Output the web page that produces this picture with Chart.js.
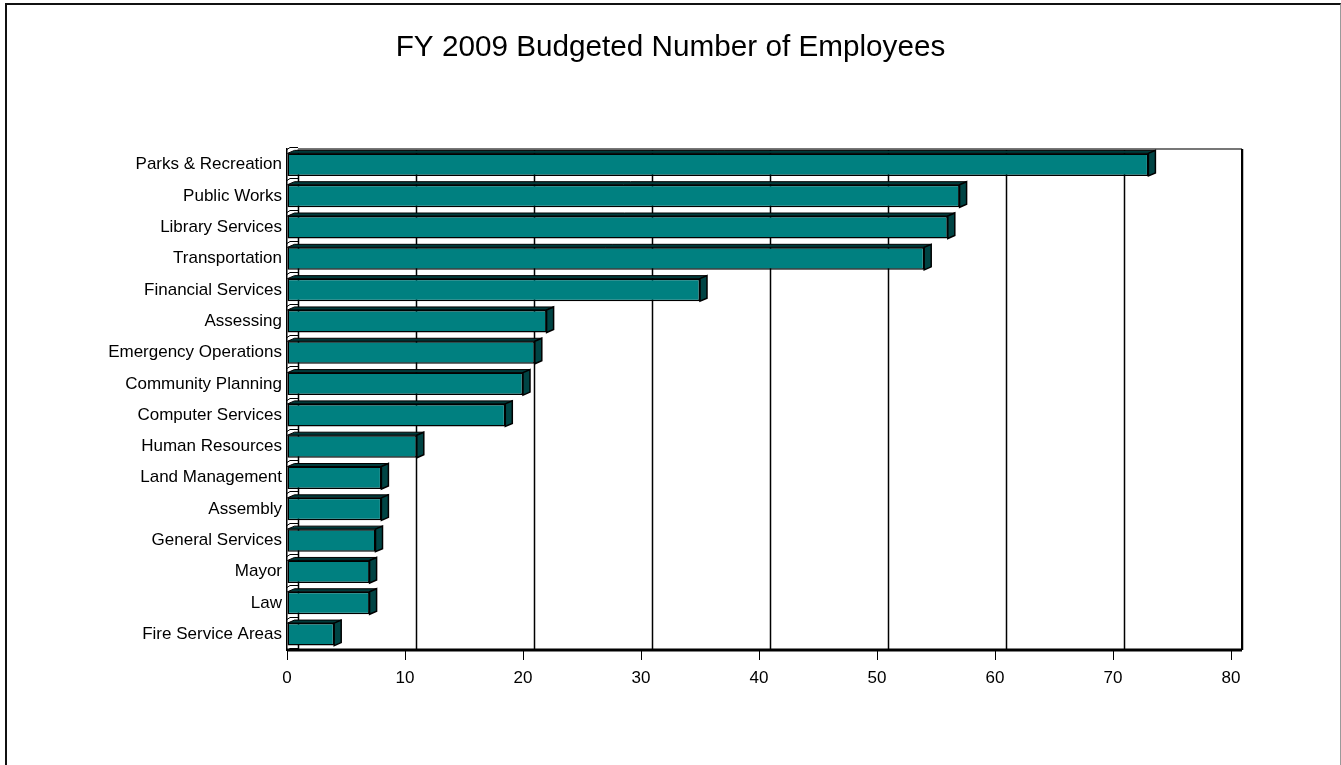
<!DOCTYPE html>
<html>
<head>
<meta charset="utf-8">
<script src="https://cdn.jsdelivr.net/npm/chart.js@4"></script>
<style>
  html, body { margin: 0; padding: 0; background: #fff; overflow: hidden; }
  #wrap { position: relative; width: 1341px; height: 765px; overflow: hidden; }
  #frame { position: absolute; left: 5px; top: 3px; width: 1336px; height: 780px;
           border: 2px solid #111; border-right: 1px solid #9a9a9a; box-sizing: border-box; }
  canvas { position: absolute; left: 0; top: 0; }
</style>
</head>
<body>
<div id="wrap">
  <div id="frame"></div>
  <canvas id="chart" width="1341" height="765"></canvas>
</div>
<script>
const departments = [
  'Parks & Recreation', 'Public Works', 'Library Services', 'Transportation',
  'Financial Services', 'Assessing', 'Emergency Operations', 'Community Planning',
  'Computer Services', 'Human Resources', 'Land Management', 'Assembly',
  'General Services', 'Mayor', 'Law', 'Fire Service Areas'
]
const employees = [73, 57, 56, 54, 35, 22, 21, 20, 18.5, 11, 8, 8, 7.5, 7, 7, 4]
const xTicks = [0, 10, 20, 30, 40, 50, 60, 70, 80]
const chartTitle = 'FY 2009 Budgeted Number of Employees'

const FONT = '"Liberation Sans", Arial, sans-serif'
const DEPTH_X = 11   // how far the back wall sits to the right
const SIDE_X = 7     // visible depth of each bar's end
const SIDE_Y = 3

// back wall, gridlines, floor, little wall ledges and the title
const wallPlugin = {
  id: 'wall',
  beforeDatasetsDraw(chart) {
    const { ctx, chartArea: a, scales: { x } } = chart
    ctx.save()
    ctx.strokeStyle = '#000'
    ctx.lineWidth = 1.5
    xTicks.forEach((v) => {
      const px = Math.round(x.getPixelForValue(v) + DEPTH_X) + 0.5
      ctx.beginPath()
      ctx.moveTo(px, a.top)
      ctx.lineTo(px, a.bottom)
      ctx.stroke()
    })
    // top edge of the back wall
    ctx.strokeStyle = '#777'
    ctx.lineWidth = 2
    ctx.beginPath()
    ctx.moveTo(x.getPixelForValue(0) + DEPTH_X, a.top)
    ctx.lineTo(x.getPixelForValue(80) + DEPTH_X, a.top)
    ctx.stroke()
    // ledges on the left wall between categories
    ctx.strokeStyle = '#000'
    ctx.lineWidth = 1
    const step = (a.bottom - a.top) / departments.length
    for (let i = 0; i <= departments.length; i++) {
      const py = Math.round(a.top + i * step) + 0.5
      ctx.beginPath()
      ctx.moveTo(a.left, py)
      ctx.lineTo(a.left + 3, py - 2)
      ctx.lineTo(a.left + DEPTH_X, py - 2)
      ctx.stroke()
    }
    ctx.restore()
  },
  afterDatasetsDraw(chart) {
    const { ctx, chartArea: a, scales: { x } } = chart
    const meta = chart.getDatasetMeta(0)
    ctx.save()
    meta.data.forEach((bar) => {
      const half = bar.height / 2
      const top = bar.y - half
      const bottom = bar.y + half
      const x0 = bar.base
      const x1 = bar.x
      // top face
      ctx.beginPath()
      ctx.moveTo(x0, top)
      ctx.lineTo(x0 + SIDE_X, top - SIDE_Y)
      ctx.lineTo(x1 + SIDE_X, top - SIDE_Y)
      ctx.lineTo(x1, top)
      ctx.closePath()
      ctx.fillStyle = '#003a3a'
      ctx.fill()
      ctx.strokeStyle = '#000'
      ctx.lineWidth = 1
      ctx.stroke()
      // end face
      ctx.beginPath()
      ctx.moveTo(x1, top)
      ctx.lineTo(x1 + SIDE_X, top - SIDE_Y)
      ctx.lineTo(x1 + SIDE_X, bottom - SIDE_Y)
      ctx.lineTo(x1, bottom)
      ctx.closePath()
      ctx.fillStyle = '#004444'
      ctx.fill()
      ctx.lineWidth = 1.5
      ctx.stroke()
    })
    // floor line
    ctx.strokeStyle = '#000'
    ctx.lineWidth = 3
    ctx.beginPath()
    ctx.moveTo(a.left, a.bottom)
    ctx.lineTo(x.getPixelForValue(80) + DEPTH_X, a.bottom)
    ctx.stroke()
    // right edge of the back wall
    ctx.lineWidth = 2
    ctx.beginPath()
    ctx.moveTo(x.getPixelForValue(80) + DEPTH_X, a.top)
    ctx.lineTo(x.getPixelForValue(80) + DEPTH_X, a.bottom)
    ctx.stroke()
    // title, centred on the whole page
    ctx.fillStyle = '#000'
    ctx.font = '29.7px ' + FONT
    ctx.textAlign = 'center'
    ctx.textBaseline = 'middle'
    ctx.fillText(chartTitle, chart.width / 2, 48)
    ctx.restore()
  }
}

new Chart(document.getElementById('chart'), {
  type: 'bar',
  data: {
    labels: departments,
    datasets: [{
      data: employees,
      backgroundColor: '#008080',
      borderColor: '#000',
      borderWidth: 1.5,
      borderSkipped: false,
      barPercentage: 0.72,
      categoryPercentage: 1
    }]
  },
  options: {
    indexAxis: 'y',
    responsive: false,
    animation: false,
    devicePixelRatio: 1,
    layout: { padding: { left: 0, right: 110, top: 149, bottom: 0 } },
    plugins: {
      legend: { display: false },
      tooltip: { enabled: false },
      title: { display: false }
    },
    scales: {
      x: {
        min: 0,
        max: 80,
        afterBuildTicks(scale) { scale.ticks = xTicks.map((v) => ({ value: v })) },
        afterFit(scale) { scale.height = 115 },
        ticks: { color: '#000', font: { family: FONT, size: 17 }, padding: 8 },
        grid: { drawOnChartArea: false, drawTicks: true, tickLength: 10, color: '#000', lineWidth: 1 },
        border: { display: false }
      },
      y: {
        afterFit(scale) { scale.width = 287 },
        ticks: { color: '#000', font: { family: FONT, size: 17 }, padding: 5 },
        grid: { display: false, drawTicks: false },
        border: { display: true, color: '#000', width: 1.5 }
      }
    }
  },
  plugins: [wallPlugin]
})
</script>
</body>
</html>
